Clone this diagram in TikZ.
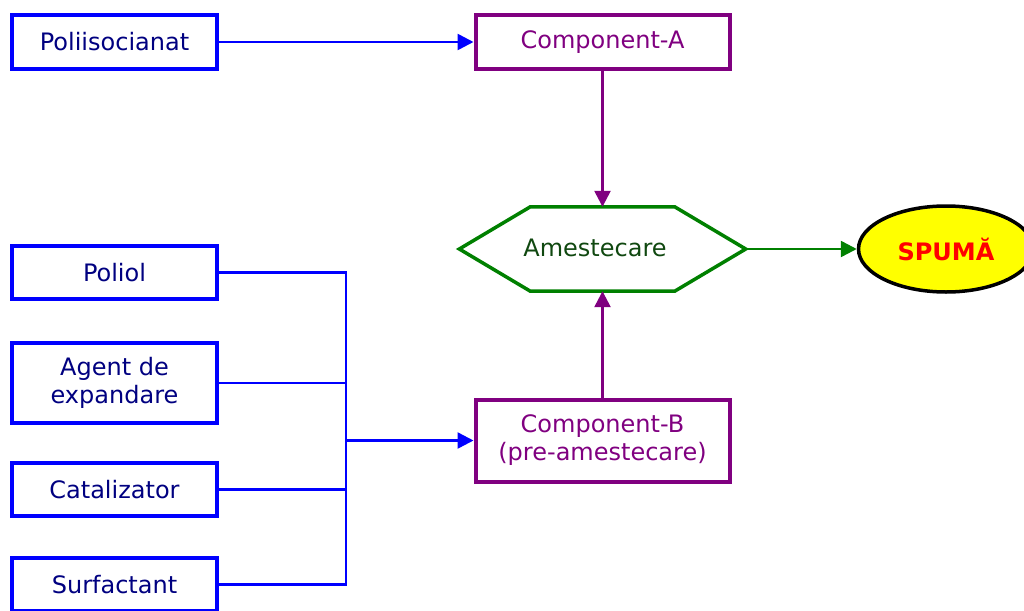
\documentclass[tikz,border=0pt]{standalone}
\usepackage{fontspec}
\setmainfont{DejaVu Sans}
\usetikzlibrary{arrows.meta,shapes.geometric}
\definecolor{boxblue}{RGB}{0,0,255}
\definecolor{navytext}{RGB}{0,0,128}
\definecolor{compurple}{RGB}{128,0,128}
\definecolor{mixgreen}{RGB}{0,128,0}
\definecolor{mixtext}{RGB}{16,72,16}
\definecolor{foamyellow}{RGB}{255,255,0}
\definecolor{foamred}{RGB}{255,0,0}

\begin{document}
\begin{tikzpicture}[x=1pt,y=-1pt,
  font=\fontsize{24}{28}\selectfont,
  srcbox/.style={draw=boxblue, line width=4pt, text=navytext,
    minimum width=205pt, inner sep=0pt, align=center},
  compbox/.style={draw=compurple, line width=4pt, text=compurple,
    minimum width=254pt, inner sep=0pt, align=center},
  feed/.style={draw=boxblue, line width=2.5pt},
  purpleflow/.style={draw=compurple, line width=2.5pt},
  greenflow/.style={draw=mixgreen, line width=2.5pt},
  tip/.style={-{Triangle[length=16pt,width=16pt]}},
]
\useasboundingbox (0,0) rectangle (1024,610);
\clip (0,0) rectangle (1024,610);

% raw materials
\node[srcbox, minimum height=54pt] (iso) at (114.5,42) {Poliisocianat};
\node[srcbox, minimum height=53pt] (poliol) at (114.5,272.5) {Poliol};
\node[srcbox, minimum height=80pt] (agent) at (114.5,383) {Agent de\\expandare};
\node[srcbox, minimum height=53pt] (cat) at (114.5,489.5) {Catalizator};
\node[srcbox, minimum height=53pt] (surf) at (114.5,584.5) {Surfactant};

% components
\node[compbox, minimum height=54pt] (compA) at (602.5,42) {Component-A};
\node[compbox, minimum height=82pt] (compB) at (602.5,440.5) {Component-B\\(pre-amestecare)};

% mixing step (hexagon drawn around the node, label sits a little left)
\node[minimum width=286pt, minimum height=84pt, inner sep=0pt, text=mixtext]
  (mix) at (602.5,249) {\raisebox{3pt}{Amestecare}\hspace*{15pt}};
\draw[mixgreen, line width=3.5pt, line join=miter]
  (mix.west) -- ([xshift=71pt]mix.north west) -- ([xshift=-71pt]mix.north east)
  -- (mix.east) -- ([xshift=-71pt]mix.south east) -- ([xshift=71pt]mix.south west)
  -- cycle;

% product
\node[ellipse, draw=black, line width=3.5pt, fill=foamyellow, text=foamred,
  minimum width=175pt, minimum height=86pt, inner sep=0pt,
  font=\fontsize{24}{28}\selectfont\bfseries] (foam) at (946,249) {SPUMĂ};

% collecting bus for component B
\coordinate (bus) at (346,440.5);

% connectors
\draw[feed, tip] (iso.east) -- (compA.west);
\draw[feed] (poliol.east) -| (bus);
\draw[feed] (agent.east) -| (bus);
\draw[feed] (cat.east) -| (bus);
\draw[feed] (surf.east) -| (bus);
\draw[feed, tip] (bus) -- (compB.west);
\draw[purpleflow, tip] (compA.south) -- (mix.north);
\draw[purpleflow, tip] (compB.north) -- (mix.south);
\draw[greenflow, tip] (mix.east) -- (foam.west);
\end{tikzpicture}
\end{document}
